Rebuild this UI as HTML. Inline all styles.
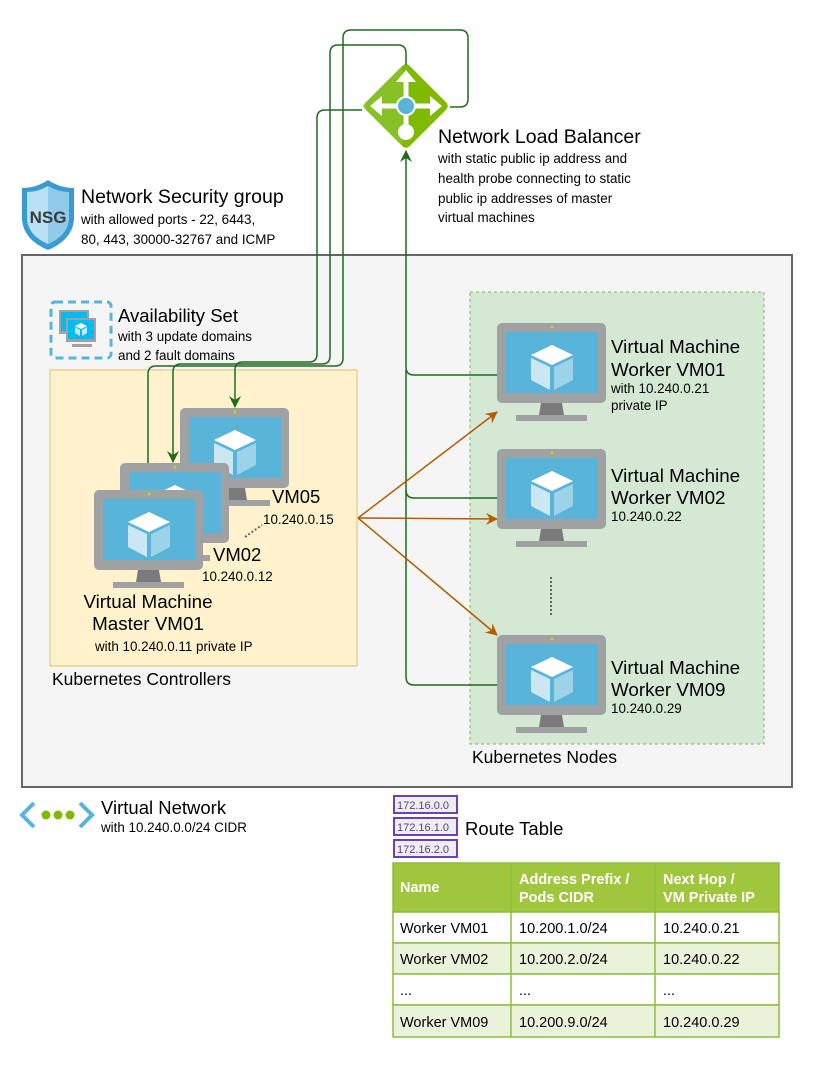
<!DOCTYPE html>
<html><head><meta charset="utf-8"><style>
body{margin:0;background:#fff}
svg text{font-family:"Liberation Sans",sans-serif;fill:#000}
</style></head><body>
<svg width="829" height="1076" viewBox="0 0 829 1076" xmlns="http://www.w3.org/2000/svg">
<defs>
<g id="vm">
<rect x="0" y="0" width="109" height="80" rx="5" fill="#a0a1a2"/>
<rect x="9" y="9" width="92" height="61" fill="#59b4d9"/>
<path d="M44 80 L65 80 L67 92 L42 92 Z" fill="#7a7a7a"/>
<rect x="19" y="92" width="71" height="6" fill="#a0a1a2"/>
<path d="M55 22 L76 32 L55 42 L34 32 Z" fill="#fff"/>
<path d="M34 35 L53 44 L53 67 L34 57 Z" fill="#cbe7f3"/>
<path d="M57 44 L76 35 L76 57 L57 67 Z" fill="#9dd3e8"/>
<circle cx="55" cy="4" r="1.5" fill="#b8d432"/>
</g>
<marker id="ag" markerWidth="14" markerHeight="14" refX="11" refY="6" orient="auto" markerUnits="userSpaceOnUse"><path d="M0 0 L12 6 L0 12 L4 6 Z" fill="#1e6b1e"/></marker>
<marker id="ao" markerWidth="14" markerHeight="14" refX="11" refY="6" orient="auto" markerUnits="userSpaceOnUse"><path d="M0 0 L12 6 L0 12 L4 6 Z" fill="#b35c00"/></marker>
</defs>

<rect x="22" y="255" width="770" height="532" fill="#f5f5f5" stroke="#666" stroke-width="2"/>
<rect x="50" y="370" width="307" height="296" fill="#fff2cc" stroke="#e0c070"/>
<rect x="470" y="292" width="294" height="452" fill="#d5e8d4" stroke="#82b366" stroke-dasharray="3,3"/>

<g transform="translate(406,106) rotate(45)">
<rect x="-31" y="-31" width="62" height="62" rx="5" fill="#7fba00"/>
<path d="M-31 -26 L-31 31 L26 31 Z" fill="#8cc63f" opacity="0.6"/>
</g>
<g stroke="#fff" stroke-width="5" fill="#fff">
<line x1="406" y1="80" x2="406" y2="126"/><line x1="380" y1="106" x2="432" y2="106"/>
</g>
<path d="M406 70 L396 82 L416 82 Z M370 106 L382 96 L382 116 Z M442 106 L430 96 L430 116 Z" fill="#fff"/>
<circle cx="406" cy="132" r="8" fill="#fff"/>
<circle cx="406" cy="106" r="9" fill="#59b4d9" stroke="#fff" stroke-width="2"/>

<g fill="none" stroke="#1e6b1e" stroke-width="1.5">
<path d="M450 107 L460 107 Q468 107 468 99 L468 38 Q468 30 460 30 L351 30 Q343 30 343 38 L343 358 Q343 366 335 366 L156 366 Q148 366 148 374 L148 489" marker-end="url(#ag)"/>
<path d="M406 65 L406 53 Q406 45 398 45 L338 45 Q330 45 330 53 L330 356 Q330 364 322 364 L181 364 Q173 364 173 372 L173 462" marker-end="url(#ag)"/>
<path d="M362 110 L325 110 Q317 110 317 118 L317 354 Q317 362 309 362 L243 362 Q235 362 235 370 L235 407" marker-end="url(#ag)"/>
<path d="M498 375 L414 375 Q406 375 406 367 L406 151" marker-end="url(#ag)"/>
<path d="M498 498 L414 498 Q406 498 406 490 L406 370"/>
<path d="M498 685 L414 685 Q406 685 406 677 L406 490"/>
</g>
<g stroke="#b35c00" stroke-width="1.5" fill="none">
<line x1="358" y1="518" x2="497" y2="412" marker-end="url(#ao)"/>
<line x1="358" y1="518" x2="497" y2="519" marker-end="url(#ao)"/>
<line x1="358" y1="518" x2="497" y2="635" marker-end="url(#ao)"/>
</g>

<use href="#vm" x="180" y="408"/>
<use href="#vm" x="120" y="463"/>
<use href="#vm" x="94" y="490"/>
<use href="#vm" x="497" y="323"/>
<use href="#vm" x="497" y="449"/>
<use href="#vm" x="497" y="635"/>
<line x1="245" y1="537" x2="262" y2="525" stroke="#666" stroke-width="2" stroke-dasharray="2,2"/>
<line x1="551" y1="577" x2="551" y2="617" stroke="#666" stroke-width="2" stroke-dasharray="2,2"/>

<path d="M48 180 Q60 188 74 188 L74 220 Q72 240 48 250 Q24 240 22 220 L22 188 Q36 188 48 180 Z" fill="#3a9bd0"/>
<path d="M48 186 Q58 192 69 192 L69 220 Q67 236 48 244 Z" fill="#8fcbe8"/>
<path d="M48 186 Q38 192 27 192 L27 220 Q29 236 48 244 Z" fill="#b9e0f3"/>
<text x="48" y="223" font-size="17" font-weight="bold" text-anchor="middle" style="fill:#3a3a3a">NSG</text>

<rect x="51" y="302" width="60" height="56" rx="4" fill="none" stroke="#59b4d9" stroke-width="3" stroke-dasharray="8,5"/>
<rect x="59" y="310" width="30" height="24" fill="#a0a1a2"/><rect x="61" y="312" width="26" height="19" fill="#00bcf2"/>
<rect x="66" y="318" width="30" height="24" fill="#a0a1a2"/><rect x="68" y="320" width="26" height="19" fill="#00bcf2"/>
<rect x="72" y="344" width="20" height="3" fill="#a0a1a2"/>
<path d="M81 323 L87 326 L81 329 L75 326 Z" fill="#fff"/><path d="M75 327 L80 330 L80 336 L75 333Z M82 330 L87 327 L87 333 L82 336Z" fill="#cbe7f3"/>

<path d="M34 803 L22 815 L34 827 M80 803 L92 815 L80 827" stroke="#59b4d9" stroke-width="4" fill="none"/>
<circle cx="46" cy="815" r="4.5" fill="#7fba00"/><circle cx="58" cy="815" r="4.5" fill="#7fba00"/><circle cx="70" cy="815" r="4.5" fill="#7fba00"/>

<text x="438" y="143" font-size="19.5">Network Load Balancer</text>
<g font-size="13.4"><text x="438" y="163">with static public ip address and</text>
<text x="438" y="183">health probe connecting to static</text>
<text x="438" y="203">public ip addresses of master</text>
<text x="438" y="222">virtual machines</text></g>
<text x="81" y="203" font-size="19.5">Network Security group</text>
<text x="81" y="224" font-size="13.4">with allowed ports - 22, 6443,</text>
<text x="81" y="244" font-size="13.4">80, 443, 30000-32767 and ICMP</text>
<text x="118" y="322" font-size="18.5">Availability Set</text>
<text x="118" y="341" font-size="13.4">with 3 update domains</text>
<text x="118" y="360" font-size="13.4">and 2 fault domains</text>
<text x="611" y="353" font-size="18.8">Virtual Machine</text><text x="611" y="376" font-size="18.8">Worker VM01</text>
<text x="611" y="393" font-size="13.4">with 10.240.0.21</text><text x="611" y="410" font-size="13.4">private IP</text>
<text x="611" y="482" font-size="18.8">Virtual Machine</text><text x="611" y="504" font-size="18.8">Worker VM02</text>
<text x="611" y="521" font-size="13.4">10.240.0.22</text>
<text x="611" y="674" font-size="18.8">Virtual Machine</text><text x="611" y="696" font-size="18.8">Worker VM09</text>
<text x="611" y="713" font-size="13.4">10.240.0.29</text>
<text x="272" y="503" font-size="18.5">VM05</text><text x="263" y="524" font-size="13.4">10.240.0.15</text>
<text x="213" y="561" font-size="18.5">VM02</text><text x="202" y="581" font-size="13.4">10.240.0.12</text>
<text x="148" y="608" font-size="18.8" text-anchor="middle">Virtual Machine</text>
<text x="148" y="630" font-size="18.8" text-anchor="middle">Master VM01</text>
<text x="95" y="651" font-size="13.4">with 10.240.0.11 private IP</text>
<text x="52" y="685" font-size="17.5">Kubernetes Controllers</text>
<text x="472" y="763" font-size="17.5">Kubernetes Nodes</text>
<text x="101" y="814" font-size="18.5">Virtual Network</text>
<text x="101" y="832" font-size="13.4">with 10.240.0.0/24 CIDR</text>
<text x="465" y="835" font-size="18.5">Route Table</text>
<g font-size="11">
<rect x="394" y="796" width="63" height="17" fill="#eee" stroke="#6a3fc0" stroke-width="2"/><text x="397" y="809" style="fill:#5a3aa0">172.16.0.0</text>
<rect x="394" y="818" width="63" height="17" fill="#eee" stroke="#6a3fc0" stroke-width="2"/><text x="397" y="831" style="fill:#5a3aa0">172.16.1.0</text>
<rect x="394" y="840" width="63" height="17" fill="#eee" stroke="#6a3fc0" stroke-width="2"/><text x="397" y="853" style="fill:#5a3aa0">172.16.2.0</text>
</g>

<g stroke="#8cbf3f" stroke-width="1.5">
<rect x="393" y="863" width="386" height="49" fill="#9fc63c"/>
<rect x="393" y="912" width="386" height="31" fill="#fff"/>
<rect x="393" y="943" width="386" height="31" fill="#eaf2d9"/>
<rect x="393" y="974" width="386" height="31" fill="#fff"/>
<rect x="393" y="1005" width="386" height="32" fill="#eaf2d9"/>
<line x1="511" y1="863" x2="511" y2="1037"/><line x1="655" y1="863" x2="655" y2="1037"/>
</g>
<g font-size="14.5" font-weight="bold">
<text x="400" y="892" style="fill:#fff">Name</text>
<text x="519" y="884" style="fill:#fff">Address Prefix /</text><text x="519" y="902" style="fill:#fff">Pods CIDR</text>
<text x="663" y="884" style="fill:#fff">Next Hop /</text><text x="663" y="902" style="fill:#fff">VM Private IP</text>
</g>
<g font-size="14.5">
<text x="400" y="933">Worker VM01</text><text x="519" y="933">10.200.1.0/24</text><text x="663" y="933">10.240.0.21</text>
<text x="400" y="964">Worker VM02</text><text x="519" y="964">10.200.2.0/24</text><text x="663" y="964">10.240.0.22</text>
<text x="400" y="995">...</text><text x="519" y="995">...</text><text x="663" y="995">...</text>
<text x="400" y="1027">Worker VM09</text><text x="519" y="1027">10.200.9.0/24</text><text x="663" y="1027">10.240.0.29</text>
</g>
</svg>
</body></html>
